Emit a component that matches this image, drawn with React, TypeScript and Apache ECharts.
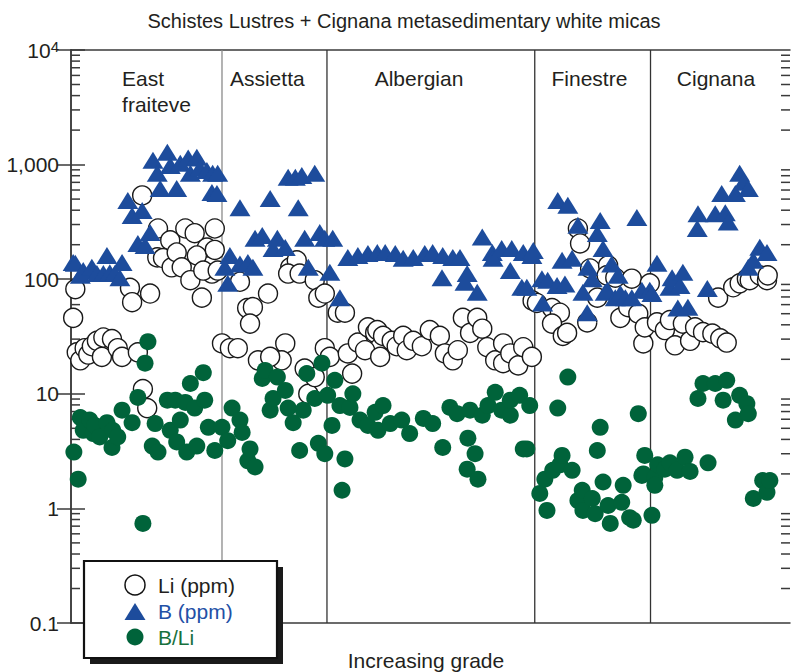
import React, { useEffect, useRef } from 'react';
import * as echarts from 'echarts';

// ---- data (x = position along increasing grade, 0–100; y = value) ----
const sectionNames = ['East\nfraiteve', 'Assietta', 'Albergian', 'Finestre', 'Cignana'];
const sectionLabelX = [7.1, 27.3, 48.4, 72.1, 89.7];
const sectionLabelY = [4355, 5650, 5650, 5650, 5650];
const sectionBounds = [21.0, 35.6, 64.5, 80.6];
const yTickLabels = ['0.1', '1', '10', '100', '1,000', '10^4'];

const liData: number[][] = [
  // East fraiteve
  [0.3, 46], [0.6, 82], [0.8, 23], [1.3, 19.6], [1.9, 25], [2.4, 22], [2.9, 26], [3.6, 29], [4.3, 21], [4.5, 31],
  [5.7, 30], [6.5, 25], [7.1, 21], [9.3, 23], [10.0, 11], [10.6, 7.5], [8.2, 84], [8.5, 63], [11.0, 75], [9.9, 538],
  [12.1, 277], [12.0, 155], [13.8, 218], [12.8, 153], [14.0, 127], [14.7, 171], [15.9, 277], [17.2, 252], [18.9, 189],
  [20.0, 277], [15.4, 127], [16.6, 98], [18.2, 69], [17.5, 161], [19.6, 112], [18.4, 119], [20.4, 119], [20.0, 180],
  // Assietta
  [23.5, 95], [27.4, 75], [24.5, 56], [25.3, 57], [24.9, 41], [21.0, 27.5], [22.1, 25], [23.2, 25], [29.8, 27.5],
  [29.3, 19.6], [26.0, 19.6], [27.7, 21], [32.5, 16.6], [33.0, 10], [30.5, 127], [31.4, 146], [30.2, 112], [31.8, 112],
  [33.9, 98], [34.4, 69], [35.3, 75], [33.9, 14],
  // Albergian
  [37.1, 51], [38.1, 51], [35.3, 25], [36.0, 21], [38.5, 22.5], [39.1, 15], [39.9, 28], [41.3, 38], [42.3, 34],
  [43.0, 25.5], [40.9, 24], [43.0, 21], [42.6, 36], [43.4, 32], [44.6, 29], [45.3, 26], [46.2, 32], [46.7, 24],
  [47.6, 29], [48.8, 26], [49.9, 36], [51.3, 32], [52.0, 22.5], [53.1, 19.6], [53.8, 24], [54.5, 46], [55.5, 34],
  [56.5, 46], [57.2, 37], [57.9, 25.5], [59.0, 19.6], [60.1, 27.5], [60.1, 18.5], [61.1, 22.5], [62.2, 17.7],
  [62.9, 25.5], [64.1, 21],
  // Finestre
  [64.2, 65], [64.8, 62], [66.9, 56], [68.0, 51], [66.9, 41], [68.4, 32], [69.0, 34], [71.8, 42], [70.5, 277],
  [70.8, 205], [72.2, 124], [74.7, 132], [74.5, 108], [75.7, 103], [73.2, 69], [76.4, 46], [77.5, 57], [78.9, 50],
  [79.6, 27.5], [79.8, 38], [78.0, 101], [80.5, 92],
  // Cignana
  [81.5, 42], [82.6, 36], [83.3, 44], [84.0, 26.5], [85.1, 41], [86.1, 29], [86.8, 38], [87.9, 34.5], [89.2, 33.5],
  [90.3, 30.5], [91.2, 28], [90.0, 69], [92.1, 85], [93.0, 92], [94.0, 101], [94.4, 98], [95.8, 108], [96.8, 98],
  [96.9, 108],
];

const bData: number[][] = [
  // East fraiteve
  [0.3, 140], [0.6, 138], [1.3, 108], [1.7, 119], [2.9, 127], [3.6, 112], [4.5, 112], [5.0, 161], [5.4, 114],
  [6.1, 112], [6.8, 103], [7.1, 140], [7.9, 487], [8.5, 360], [9.9, 398], [9.3, 205], [10.3, 197], [11.0, 255],
  [11.4, 1090], [12.0, 840], [12.4, 620], [13.4, 1280], [13.8, 984], [14.7, 620], [15.2, 1030], [16.3, 1140],
  [16.6, 840], [17.5, 1160], [17.9, 930], [18.9, 890], [19.6, 570], [19.7, 840], [20.3, 560], [20.4, 840],
  // Assietta
  [21.4, 127], [21.8, 92], [22.1, 161], [23.5, 136], [23.5, 420], [24.6, 140], [25.3, 127], [25.6, 228], [26.6, 241],
  [27.7, 505], [28.1, 185], [28.7, 228], [29.8, 189], [30.2, 775], [31.2, 775], [31.6, 420], [32.1, 805], [32.5, 228],
  [33.0, 127], [33.9, 840], [34.6, 256], [35.3, 228],
  // Albergian
  [36.0, 115], [36.4, 228], [37.4, 69], [38.5, 155], [39.9, 161], [41.3, 168], [42.6, 171], [43.7, 171], [45.1, 168],
  [46.2, 152], [47.6, 155], [49.2, 168], [50.3, 171], [51.6, 103], [51.7, 161], [53.1, 155], [54.1, 155], [54.8, 94],
  [55.1, 112], [56.5, 77], [57.2, 233], [58.6, 171], [58.7, 152], [59.9, 185], [61.1, 119], [61.3, 185], [62.7, 85],
  [62.9, 171], [63.4, 85], [64.1, 161], [64.3, 178],
  // Finestre
  [65.5, 101], [65.6, 62], [66.3, 98], [67.6, 88], [67.7, 487], [68.3, 146], [68.7, 91], [69.1, 441], [69.7, 152],
  [70.5, 295], [71.2, 77], [71.8, 51], [71.9, 127], [72.5, 101], [73.2, 250], [73.6, 326], [74.0, 185], [74.3, 77],
  [74.6, 80], [75.2, 136], [75.7, 69], [76.1, 108], [76.4, 75], [77.1, 69], [78.0, 69], [78.7, 346], [79.4, 80],
  [80.5, 80], [80.8, 75],
  // Cignana
  [81.5, 138], [83.3, 85], [83.6, 103], [84.4, 56], [84.7, 88], [85.1, 115], [85.8, 57], [87.1, 277], [87.2, 373],
  [88.5, 83], [89.6, 373], [90.5, 560], [91.0, 380], [91.4, 316], [92.4, 560], [93.0, 840], [93.5, 700], [94.2, 620],
  [94.2, 127], [94.9, 146], [95.8, 190], [96.8, 171],
];

const ratioData: number[][] = [
  // East fraiteve
  [0.4, 3.1], [1.0, 1.8], [1.3, 6.2], [1.7, 4.8], [2.6, 5.9], [3.1, 4.5], [3.3, 5.3], [4.0, 4.2], [5.0, 5.6],
  [5.7, 3.4], [5.8, 4.8], [6.5, 4.2], [7.1, 7.2], [8.5, 5.6], [9.3, 9.3], [10.0, 0.74], [10.3, 18.5], [10.7, 28.5],
  [11.3, 3.5], [11.7, 5.5], [12.1, 3.1], [13.4, 8.8], [13.8, 4.8], [14.5, 8.8], [14.7, 3.8], [15.2, 5.9], [15.9, 8.4],
  [16.1, 3.1], [16.6, 12.3], [17.2, 7.5], [17.5, 3.5], [18.4, 15.3], [18.6, 8.8], [19.1, 5.1], [20.0, 3.2],
  // Assietta
  [21.0, 5.1], [21.8, 3.9], [22.4, 7.5], [23.5, 5.9], [23.8, 4.6], [24.6, 2.6], [24.9, 3.3], [25.6, 2.3], [26.6, 13.6],
  [27.0, 16], [27.7, 7.2], [28.1, 9.1], [28.7, 14], [29.8, 10.7], [30.2, 7.5], [30.9, 5.6], [31.8, 3.2], [32.3, 7.2],
  [32.8, 15], [33.9, 9.1], [34.4, 3.7], [34.9, 18.5], [35.3, 3.0], [35.7, 9.7],
  // Albergian
  [36.3, 5.3], [36.7, 13.1], [37.4, 7.9], [37.7, 1.44], [38.1, 2.7], [38.8, 7.6], [39.2, 10], [40.2, 5.9], [41.3, 5.3],
  [42.3, 6.9], [42.7, 4.8], [43.4, 7.9], [44.4, 5.5], [46.0, 5.9], [47.1, 4.5], [49.0, 6.1], [50.3, 5.5], [51.7, 3.4],
  [52.7, 7.6], [53.7, 6.7], [55.1, 2.2], [55.2, 4.1], [55.5, 7.2], [56.2, 3.0], [56.6, 1.8], [57.2, 6.5], [58.0, 7.9],
  [59.0, 10.3], [59.9, 7.2], [61.1, 6.5], [61.1, 8.8], [62.4, 9.7], [62.9, 3.3], [63.4, 3.3], [63.8, 7.9],
  // Finestre
  [65.2, 1.35], [65.9, 1.8], [66.2, 0.96], [67.0, 2.15], [67.7, 7.5], [68.0, 2.4], [68.3, 2.9], [69.1, 14], [69.7, 2.15],
  [70.5, 1.17], [71.1, 1.44], [71.2, 0.96], [72.5, 1.22], [72.9, 0.9], [73.2, 3.2], [73.6, 5.1], [74.0, 1.7],
  [74.7, 1.06], [75.0, 0.74], [76.6, 1.13], [76.8, 1.59], [77.7, 0.83], [78.2, 0.79], [78.9, 6.7],
  // Cignana
  [79.4, 1.94], [79.6, 2.0], [79.8, 2.9], [80.8, 0.87], [81.2, 1.86], [81.2, 1.59], [81.6, 2.4], [82.6, 2.2], [83.3, 2.5],
  [84.3, 2.15], [85.4, 2.8], [86.1, 2.1], [87.2, 9.1], [87.9, 12.3], [88.6, 2.5], [89.6, 12.3], [90.7, 8.8], [91.2, 13.1],
  [92.4, 5.9], [93.0, 9.7], [94.0, 8.2], [94.2, 6.7], [94.9, 1.22], [96.2, 1.75], [96.8, 1.38], [97.2, 1.75],
];

const FONT = '"Liberation Sans", Arial, Helvetica, sans-serif';
const FRAME = '#3a3a3a';
const TEXT = '#231f20';
const BLUE = '#1d4c9c';
const GREEN = '#00633a';

export default function App() {
  const ref = useRef<HTMLDivElement>(null);

  useEffect(() => {
    if (!ref.current) return;
    const chart = echarts.init(ref.current, null, { renderer: 'svg' });

    const minorTicks: number[][] = [];
    for (let e = -1; e < 4; e++) {
      for (let m = 2; m <= 9; m++) minorTicks.push([0, Number((m * Math.pow(10, e)).toPrecision(3))]);
    }

    const logAxisBase = {
      type: 'log',
      logBase: 10,
      min: 0.1,
      max: 10000,
      splitLine: { show: false },
      axisLine: { show: true, lineStyle: { color: FRAME, width: 1.5 } },
      axisTick: { show: true, inside: true, length: 14, lineStyle: { color: FRAME, width: 1.5 } },
    };

    chart.setOption({
      animation: false,
      grid: { left: 71, top: 50, width: 719, height: 573 },
      xAxis: [
        {
          type: 'value', min: 0, max: 100, position: 'bottom',
          axisLine: { show: true, lineStyle: { color: FRAME, width: 1.5 } },
          axisTick: { show: false }, axisLabel: { show: false }, splitLine: { show: false },
        },
        {
          type: 'value', min: 0, max: 100, position: 'top',
          axisLine: { show: true, lineStyle: { color: FRAME, width: 1.5 } },
          axisTick: { show: false }, axisLabel: { show: false }, splitLine: { show: false },
        },
      ],
      yAxis: [
        {
          ...logAxisBase,
          position: 'left',
          axisLabel: {
            show: true,
            margin: 12,
            color: TEXT,
            fontFamily: FONT,
            fontSize: 21,
            formatter: (v: number) => {
              const k = Math.round(Math.log10(v)) + 1;
              if (k === 5) return '{b|10}{s|4}';
              return yTickLabels[k] ?? '';
            },
            rich: {
              b: { fontSize: 21, fontFamily: FONT, color: TEXT, lineHeight: 22 },
              s: { fontSize: 15, fontFamily: FONT, color: TEXT, lineHeight: 15, verticalAlign: 'top' },
            },
          },
        },
        {
          ...logAxisBase,
          position: 'right',
          axisLabel: { show: false },
        },
      ],
      series: [
        {
          type: 'custom',
          name: 'sections',
          silent: true,
          z: 1,
          data: sectionBounds.map((b, i) => [b, i]),
          encode: { x: 0 },
          renderItem: (params: any, api: any) => {
            const b = api.value(0);
            const i = api.value(1);
            const top = api.coord([b, 10000]);
            const bot = api.coord([b, 0.1]);
            return {
              type: 'line',
              shape: { x1: top[0], y1: top[1], x2: bot[0], y2: bot[1] },
              style: { stroke: i === 0 ? '#8a8a8a' : '#333333', lineWidth: 1.3 },
            };
          },
        },
        {
          type: 'custom',
          name: 'sectionLabels',
          silent: true,
          z: 2,
          data: sectionLabelX.map((x, i) => [x, sectionLabelY[i], i]),
          encode: { x: 0, y: 1 },
          renderItem: (params: any, api: any) => {
            const i = api.value(2);
            const p = api.coord([api.value(0), api.value(1)]);
            const left = i === 0;
            return {
              type: 'text',
              x: p[0],
              y: p[1],
              style: {
                text: sectionNames[i],
                font: `21px ${FONT}`,
                fill: TEXT,
                lineHeight: 26,
                textAlign: left ? 'left' : 'center',
                align: left ? 'left' : 'center',
                textVerticalAlign: 'middle',
                verticalAlign: 'middle',
              },
            };
          },
        },
        {
          type: 'custom',
          name: 'minorTicks',
          silent: true,
          z: 3,
          data: minorTicks,
          encode: { x: 0, y: 1 },
          renderItem: (params: any, api: any) => {
            const v = api.value(1);
            const l = api.coord([0, v]);
            const r = api.coord([100, v]);
            const st = { stroke: FRAME, lineWidth: 1.5 };
            return {
              type: 'group',
              children: [
                { type: 'line', shape: { x1: l[0], y1: l[1], x2: l[0] + 9, y2: l[1] }, style: st },
                { type: 'line', shape: { x1: r[0] - 9, y1: r[1], x2: r[0], y2: r[1] }, style: st },
              ],
            };
          },
        },
        {
          type: 'scatter',
          name: 'Li (ppm)',
          z: 10,
          symbol: 'circle',
          symbolSize: 19,
          itemStyle: { color: '#ffffff', borderColor: '#1a1a1a', borderWidth: 1.4, opacity: 1 },
          data: liData,
        },
        {
          type: 'scatter',
          name: 'B (ppm)',
          z: 11,
          symbol: 'triangle',
          symbolSize: [21, 17],
          itemStyle: { color: BLUE, opacity: 1 },
          data: bData,
        },
        {
          type: 'scatter',
          name: 'B/Li',
          z: 12,
          symbol: 'circle',
          symbolSize: 17,
          itemStyle: { color: GREEN, opacity: 1 },
          data: ratioData,
        },
      ],
      graphic: [
        {
          type: 'text',
          x: 404,
          y: 21,
          z: 100,
          style: {
            text: 'Schistes Lustres + Cignana metasedimentary white micas',
            font: `20px ${FONT}`,
            fill: TEXT,
            textAlign: 'center', align: 'center',
            textVerticalAlign: 'middle', verticalAlign: 'middle',
          },
        },
        {
          type: 'text',
          x: 426,
          y: 660,
          z: 100,
          style: {
            text: 'Increasing grade',
            font: `21px ${FONT}`,
            fill: TEXT,
            textAlign: 'center', align: 'center',
            textVerticalAlign: 'middle', verticalAlign: 'middle',
          },
        },
        {
          type: 'group',
          z: 100,
          children: [
            { type: 'rect', z: 100, shape: { x: 90, y: 567, width: 193, height: 97 }, style: { fill: '#1a1a1a' } },
            { type: 'rect', z: 101, shape: { x: 84, y: 561, width: 193, height: 97 }, style: { fill: '#ffffff', stroke: '#111111', lineWidth: 2.2 } },
            { type: 'circle', z: 102, shape: { cx: 135, cy: 585, r: 10 }, style: { fill: '#ffffff', stroke: '#111111', lineWidth: 1.5 } },
            { type: 'polygon', z: 102, shape: { points: [[124.5, 620], [145.5, 620], [135, 603]] }, style: { fill: BLUE } },
            { type: 'circle', z: 102, shape: { cx: 135, cy: 637, r: 8.5 }, style: { fill: GREEN } },
            {
              type: 'text', z: 102, x: 158, y: 585,
              style: { text: 'Li (ppm)', font: `21px ${FONT}`, fill: TEXT, textVerticalAlign: 'middle', verticalAlign: 'middle' },
            },
            {
              type: 'text', z: 102, x: 158, y: 611,
              style: { text: 'B (ppm)', font: `21px ${FONT}`, fill: '#2350a6', textVerticalAlign: 'middle', verticalAlign: 'middle' },
            },
            {
              type: 'text', z: 102, x: 158, y: 637,
              style: { text: 'B/Li', font: `21px ${FONT}`, fill: '#17703d', textVerticalAlign: 'middle', verticalAlign: 'middle' },
            },
          ],
        },
      ],
    });

    return () => chart.dispose();
  }, []);

  return (
    <div
      ref={ref}
      style={{ position: 'absolute', left: 0, top: 0, width: 796, height: 672, background: '#ffffff' }}
    />
  );
}
